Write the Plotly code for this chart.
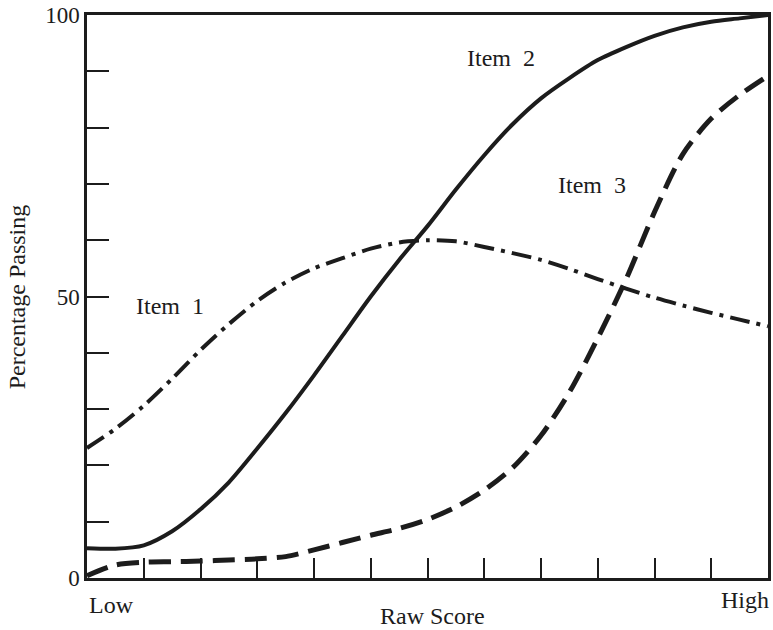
import plotly.graph_objects as go

# Raw-score positions (Low = 0 ... High = 12)
score = [0, 0.5, 1, 1.5, 2, 2.5, 3, 3.5, 4, 4.5, 5, 5.5, 6, 6.5, 7, 7.5, 8, 8.5, 9, 9.5, 10, 10.5, 11, 11.5, 12]

# Item 1 (dash-dot)
item1_y = [23.1, 26.5, 30.6, 35.4, 40.5, 45.1, 49.2, 52.5, 55.0, 56.8, 58.5, 59.6, 60.0, 59.8, 58.8, 57.7, 56.5, 54.9, 53.1, 51.4, 49.8, 48.4, 47.1, 45.9, 44.7]

# Item 2 (solid)
item2_y = [5.3, 5.2, 5.8, 8.3, 12.2, 17.0, 23.0, 29.3, 36.0, 43.0, 50.0, 56.5, 62.5, 69.0, 75.1, 80.6, 85.2, 88.8, 92.0, 94.3, 96.3, 97.8, 98.8, 99.4, 100.0]

# Item 3 (dashed)
item3_y = [0.4, 2.3, 2.8, 2.9, 3.0, 3.2, 3.4, 3.8, 5.0, 6.3, 7.6, 8.8, 10.4, 12.6, 15.6, 19.6, 25.3, 33.0, 42.6, 53.1, 65.0, 75.3, 81.6, 85.8, 89.2]

y_tickvals = [0, 10, 20, 30, 40, 50, 60, 70, 80, 90, 100]
y_ticktext = ["0", "", "", "", "", "50", "", "", "", "", "100"]
x_tickvals = [1, 2, 3, 4, 5, 6, 7, 8, 9, 10, 11]

ink = "#1c1c1c"
font = "Liberation Serif"

fig = go.Figure()
fig.add_trace(go.Scatter(x=score, y=item1_y, mode="lines",
                         line=dict(color=ink, width=4, dash="20px,7px,4px,7px", shape="spline", smoothing=0.8)))
fig.add_trace(go.Scatter(x=score, y=item2_y, mode="lines",
                         line=dict(color=ink, width=4, shape="spline", smoothing=0.8)))
fig.add_trace(go.Scatter(x=score, y=item3_y, mode="lines",
                         line=dict(color=ink, width=5, dash="22px,10px", shape="spline", smoothing=0.8)))

fig.update_layout(
    width=773, height=630,
    margin=dict(l=87, r=5, t=15, b=52),
    paper_bgcolor="white", plot_bgcolor="white",
    showlegend=False,
    font=dict(family=font, size=22, color=ink),
    xaxis=dict(range=[0, 12], showgrid=False, zeroline=False, automargin=False,
               showline=True, linecolor=ink, linewidth=2.5, mirror=True,
               tickmode="array", tickvals=x_tickvals, ticktext=[""] * len(x_tickvals),
               ticks="inside", ticklen=20, tickwidth=1.5, tickcolor=ink),
    yaxis=dict(range=[0, 100], showgrid=False, zeroline=False, automargin=False,
               showline=True, linecolor=ink, linewidth=2.5, mirror=True,
               tickmode="array", tickvals=y_tickvals, ticktext=y_ticktext,
               ticks="inside", ticklen=22, tickwidth=1.5, tickcolor=ink,
               tickfont=dict(family=font, size=23, color=ink)),
    annotations=[
        dict(x=1.46, y=48.3, xref="x", yref="y", text="Item&nbsp; 1", showarrow=False,
             font=dict(family=font, size=24, color=ink)),
        dict(x=7.30, y=92.4, xref="x", yref="y", text="Item&nbsp; 2", showarrow=False,
             font=dict(family=font, size=24, color=ink)),
        dict(x=8.90, y=69.8, xref="x", yref="y", text="Item&nbsp; 3", showarrow=False,
             font=dict(family=font, size=24, color=ink)),
        dict(x=0, y=-0.048, xref="paper", yref="paper", text="Low", showarrow=False,
             xanchor="left", yanchor="middle", font=dict(family=font, size=24, color=ink)),
        dict(x=1.004, y=-0.039, xref="paper", yref="paper", text="High", showarrow=False,
             xanchor="right", yanchor="middle", font=dict(family=font, size=24, color=ink)),
        dict(x=0.507, y=-0.067, xref="paper", yref="paper", text="Raw Score", showarrow=False,
             xanchor="center", yanchor="middle", font=dict(family=font, size=24, color=ink)),
        dict(x=-0.103, y=0.5, xref="paper", yref="paper", text="Percentage Passing", showarrow=False,
             textangle=-90, xanchor="center", yanchor="middle", font=dict(family=font, size=24, color=ink)),
    ],
)

fig.write_html("out.html", config={"displayModeBar": False},
               post_script="document.body.style.margin='0';")
